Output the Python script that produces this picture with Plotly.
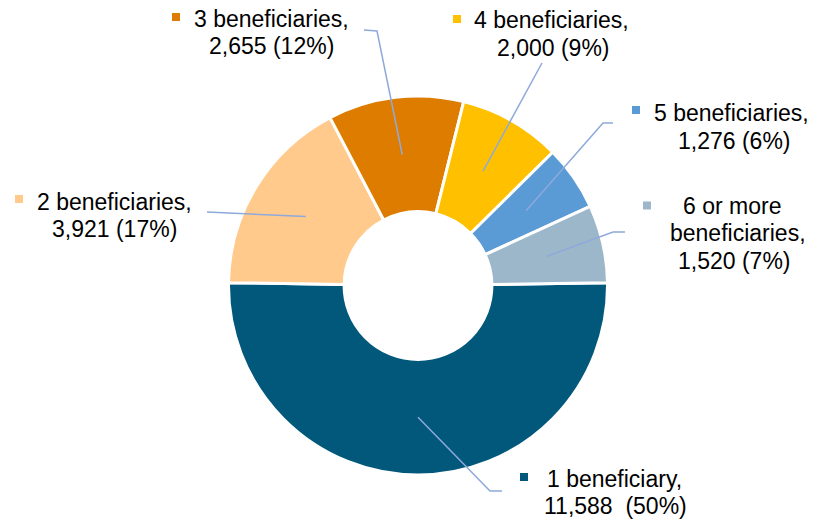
import math
import plotly.graph_objects as go

# ---- data -------------------------------------------------------------
categories = [
    "1 beneficiary",
    "2 beneficiaries",
    "3 beneficiaries",
    "4 beneficiaries",
    "5 beneficiaries",
    "6 or more beneficiaries",
]
counts = [11588, 3921, 2655, 2000, 1276, 1520]
name_lines = [
    ["1 beneficiary,"],
    ["2 beneficiaries,"],
    ["3 beneficiaries,"],
    ["4 beneficiaries,"],
    ["5 beneficiaries,"],
    ["6 or more", "beneficiaries,"],
]
value_gaps = ["\u00a0 ", " ", " ", " ", " ", " "]

# ---- styling ----------------------------------------------------------
colors = ["#01587B", "#FFCA8C", "#DE7C00", "#FFC000", "#5B9BD5", "#9BB7C9"]
leader_color = "#8EA9DB"
font_family = "Liberation Sans, Arial, sans-serif"
font_size = 23

W, H = 819, 520
CX, CY, R = 418, 285.5, 189.5
HOLE = 0.39

# label placement (pixels): left edge of each text line, baseline of each line,
# legend-key centre, and the bend / end points of each leader line
label_layout = [
    dict(left=[546.5, 543.5], base=[486.7, 514.3], key=(524, 477),
         leader=[(490, 491), (502, 491)]),
    dict(left=[36.7, 52], base=[209.5, 237], key=(19, 199),
         leader=[(207, 212)]),
    dict(left=[194.3, 209.3], base=[26.7, 54.3], key=(176, 17),
         leader=[(377, 31), (364, 30)]),
    dict(left=[474.3, 496.7], base=[28.3, 55.5], key=(457, 19),
         leader=[(542, 63)]),
    dict(left=[654, 678], base=[121, 148.5], key=(636, 110),
         leader=[(603, 123), (613, 123)]),
    dict(left=[683, 670, 678], base=[213.5, 241, 268.5], key=(647, 205.5),
         leader=[(613, 232), (625, 232)]),
]


def px(x):
    return x / W


def py(y):
    return 1 - y / H


total = sum(counts)
shares = [v / total for v in counts]
pcts = [round(100 * s) for s in shares]
# first slice centred on the bottom of the ring
rotation = 90 - (shares[0] * 360 - 180) / 2

fig = go.Figure(
    go.Pie(
        labels=categories,
        values=counts,
        sort=False,
        direction="clockwise",
        rotation=rotation,
        hole=HOLE,
        marker=dict(colors=colors, line=dict(color="white", width=3)),
        textinfo="none",
        hoverinfo="label+value+percent",
        showlegend=False,
        domain=dict(x=[px(CX - R), px(CX + R)], y=[py(CY + R), py(CY - R)]),
    )
)

annotations = []
shapes = []
r_mid = (HOLE * R + R) / 2
angle = rotation
for i, v in enumerate(counts):
    sweep = shares[i] * 360
    mid = math.radians(angle + sweep / 2)
    angle += sweep
    # anchor inside the ring at the slice's middle angle
    ax = CX + r_mid * math.sin(mid)
    ay = CY - r_mid * math.cos(mid)

    lay = label_layout[i]
    pts = [(ax, ay)] + lay["leader"]
    path = "M " + " L ".join(f"{px(x):.5f},{py(y):.5f}" for x, y in pts)
    shapes.append(dict(type="path", path=path, xref="paper", yref="paper",
                       line=dict(color=leader_color, width=1.5)))

    kx, ky = lay["key"]
    shapes.append(dict(type="rect", xref="paper", yref="paper",
                       x0=px(kx - 4), x1=px(kx + 4), y0=py(ky + 4), y1=py(ky - 4),
                       fillcolor=colors[i], line=dict(width=0)))

    lines = name_lines[i] + [f"{v:,}{value_gaps[i]}({pcts[i]}%)"]
    for text, left, base in zip(lines, lay["left"], lay["base"]):
        annotations.append(dict(
            text=text, xref="paper", yref="paper",
            x=px(left - 2), y=py(base - 0.3465 * font_size),
            xanchor="left", yanchor="middle", showarrow=False,
            font=dict(family=font_family, size=font_size, color="#000000"),
        ))

fig.update_layout(
    width=W,
    height=H,
    margin=dict(l=0, r=0, t=0, b=0),
    paper_bgcolor="white",
    plot_bgcolor="white",
    shapes=shapes,
    annotations=annotations,
)

fig.write_html("out.html")
